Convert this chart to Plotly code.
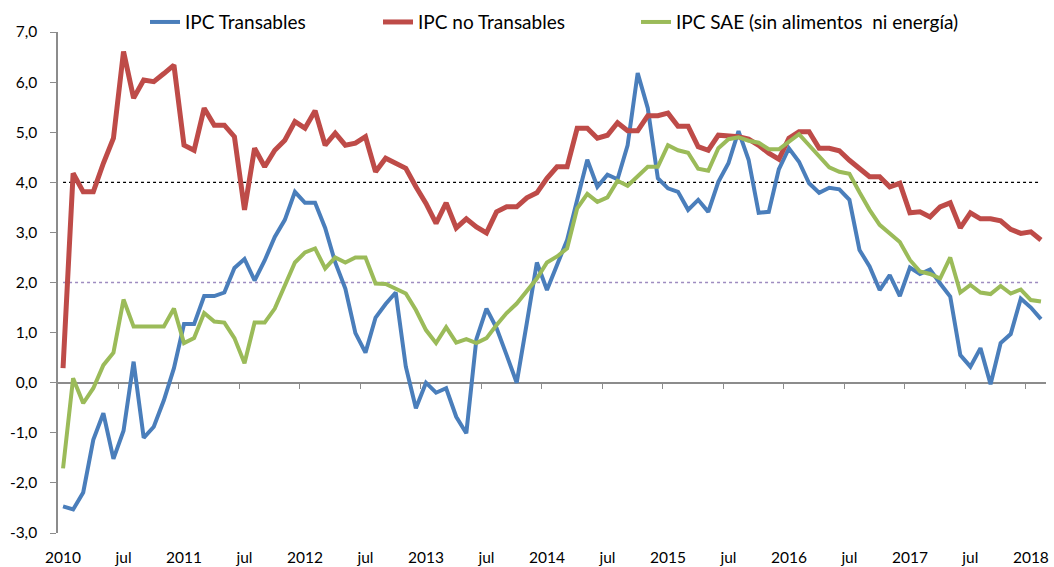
import plotly.graph_objects as go

# ---- data (monthly, Jan 2010 - Feb 2018) ----
months = [f"{y}-{m:02d}" for y in range(2010, 2019) for m in range(1, 13)][:98]

ipc_transables = [
    -2.47, -2.53, -2.19, -1.14, -0.61, -1.52, -0.96, 0.42, -1.10, -0.88, -0.35, 0.29,
    1.17, 1.17, 1.73, 1.73, 1.80, 2.29, 2.47, 2.04, 2.44, 2.91, 3.25, 3.81,
    3.59, 3.59, 3.09, 2.40, 1.88, 0.99, 0.60, 1.30, 1.57, 1.80, 0.32, -0.51,
    0.00, -0.20, -0.11, -0.68, -1.01, 0.87, 1.48, 1.09, 0.55, 0.00, 1.19, 2.40,
    1.85, 2.35, 2.85, 3.65, 4.45, 3.91, 4.15, 4.06, 4.74, 6.18, 5.48, 4.08,
    3.88, 3.81, 3.45, 3.65, 3.41, 4.01, 4.38, 5.02, 4.45, 3.39, 3.41, 4.26,
    4.68, 4.41, 3.98, 3.79, 3.89, 3.86, 3.65, 2.65, 2.32, 1.85, 2.15, 1.73,
    2.30, 2.17, 2.26, 1.98, 1.72, 0.55, 0.32, 0.69, -0.03, 0.79, 0.97, 1.68,
    1.50, 1.27,
]

ipc_no_transables = [
    0.29, 4.18, 3.81, 3.81, 4.38, 4.88, 6.61, 5.68, 6.04, 6.01, 6.17, 6.34,
    4.74, 4.64, 5.48, 5.14, 5.14, 4.91, 3.45, 4.68, 4.31, 4.64, 4.84, 5.21,
    5.08, 5.43, 4.74, 4.98, 4.74, 4.78, 4.91, 4.21, 4.48, 4.38, 4.28, 3.91,
    3.58, 3.18, 3.59, 3.09, 3.27, 3.11, 2.99, 3.41, 3.51, 3.51, 3.69, 3.79,
    4.08, 4.31, 4.31, 5.08, 5.08, 4.88, 4.94, 5.19, 5.03, 5.03, 5.33, 5.33,
    5.38, 5.12, 5.12, 4.71, 4.64, 4.94, 4.92, 4.91, 4.86, 4.74, 4.58, 4.46,
    4.88, 5.01, 5.01, 4.68, 4.68, 4.63, 4.44, 4.28, 4.11, 4.11, 3.91, 3.98,
    3.39, 3.41, 3.31, 3.51, 3.59, 3.09, 3.39, 3.27, 3.27, 3.23, 3.06, 2.98,
    3.01, 2.85,
]

ipc_sae = [
    -1.71, 0.09, -0.41, -0.11, 0.35, 0.60, 1.66, 1.12, 1.12, 1.12, 1.12, 1.48,
    0.79, 0.89, 1.39, 1.22, 1.20, 0.89, 0.39, 1.20, 1.20, 1.48, 1.92, 2.40,
    2.60, 2.68, 2.28, 2.50, 2.40, 2.50, 2.50, 1.98, 1.97, 1.88, 1.78, 1.45,
    1.05, 0.79, 1.11, 0.80, 0.87, 0.79, 0.89, 1.15, 1.39, 1.58, 1.82, 2.08,
    2.40, 2.52, 2.68, 3.48, 3.77, 3.61, 3.70, 4.03, 3.93, 4.11, 4.31, 4.31,
    4.74, 4.64, 4.59, 4.27, 4.23, 4.68, 4.86, 4.90, 4.83, 4.79, 4.66, 4.66,
    4.81, 4.96, 4.74, 4.51, 4.30, 4.21, 4.17, 3.80, 3.45, 3.15, 2.98, 2.81,
    2.45, 2.22, 2.17, 2.08, 2.50, 1.80, 1.95, 1.80, 1.77, 1.93, 1.78, 1.86,
    1.65, 1.62,
]

series_names = ["IPC Transables", "IPC no Transables", "IPC SAE (sin alimentos  ni energía)"]
reference_levels = [4.0, 2.0]

x_tick_labels = ["2010", "jul", "2011", "jul", "2012", "jul", "2013", "jul", "2014",
                 "jul", "2015", "jul", "2016", "jul", "2017", "jul", "2018"]
y_tick_values = [-3, -2, -1, 0, 1, 2, 3, 4, 5, 6, 7]
y_tick_labels = ["-3,0", "-2,0", "-1,0", "0,0", "1,0", "2,0", "3,0", "4,0", "5,0", "6,0", "7,0"]

# ---- figure ----
idx = list(range(len(months)))
FONT = "Lato, 'Open Sans', sans-serif"

fig = go.Figure()

colors = ["#4A7EBB", "#BE4B48", "#9BBB59"]
widths = [4, 5, 4]
values = [ipc_transables, ipc_no_transables, ipc_sae]
legends = ["legend", "legend2", "legend3"]
for name, vals, c, w, lg in zip(series_names, values, colors, widths, legends):
    fig.add_trace(go.Scatter(x=idx, y=vals, mode="lines", name=name,
                             line=dict(color=c, width=w), legend=lg,
                             hovertext=months))

# dummy trace to activate the zero-line axis (x2)
fig.add_trace(go.Scatter(x=[None], y=[None], xaxis="x2", showlegend=False,
                         hoverinfo="skip"))

# reference levels (dotted lines) across the data range
ref_styles = [dict(color="#000000", width=1.3, dash="dot"),
              dict(color="#9E8CC0", width=1.3, dash="dot")]
for lvl, st in zip(reference_levels, ref_styles):
    fig.add_shape(type="line", xref="x", yref="y", x0=idx[0], x1=idx[-1],
                  y0=lvl, y1=lvl, line=st, layer="below")

n = len(months)
boundaries = [i - 0.5 for i in range(6, n, 6)]

leg_common = dict(xref="container", yref="container", y=0.961,
                  xanchor="left", yanchor="middle", orientation="h",
                  font=dict(size=19), bgcolor="rgba(0,0,0,0)")

fig.update_layout(
    width=1054, height=567,
    margin=dict(l=58, r=8, t=32, b=34, autoexpand=False),
    paper_bgcolor="white", plot_bgcolor="white",
    font=dict(family=FONT, size=15.5, color="#000000"),
    showlegend=True,
    legend=dict(x=145 / 1054, **leg_common),
    legend2=dict(x=378 / 1054, **leg_common),
    legend3=dict(x=636 / 1054, **leg_common),
    xaxis=dict(range=[-0.5, n - 0.5], tickmode="array", automargin=False,
               tickvals=list(range(0, n, 6)), ticktext=x_tick_labels,
               showgrid=False, zeroline=False, showline=False, ticks="",
               ticklabelstandoff=13, tickfont=dict(size=15.5)),
    xaxis2=dict(range=[-0.5, n - 0.5], overlaying="x", anchor="free",
                position=0.3, showline=True, linecolor="#8C8C8C", linewidth=1.5,
                ticks="outside", ticklen=6, tickwidth=1.3, tickcolor="#8C8C8C",
                tickmode="array", tickvals=boundaries, showticklabels=False,
                showgrid=False, zeroline=False, layer="below traces",
                automargin=False),
    yaxis=dict(range=[-3, 7], tickmode="array", tickvals=y_tick_values,
               ticktext=y_tick_labels, showgrid=False, zeroline=False,
               showline=True, linecolor="#8C8C8C", linewidth=1.5,
               ticks="outside", ticklen=6, tickwidth=1.3, tickcolor="#8C8C8C",
               ticklabelstandoff=10, tickfont=dict(size=15.5), automargin=False),
)

fig.write_html("out.html",
               config={"displayModeBar": False},
               post_script="document.body.style.margin='0px';"
                           "document.body.style.overflow='hidden';")
